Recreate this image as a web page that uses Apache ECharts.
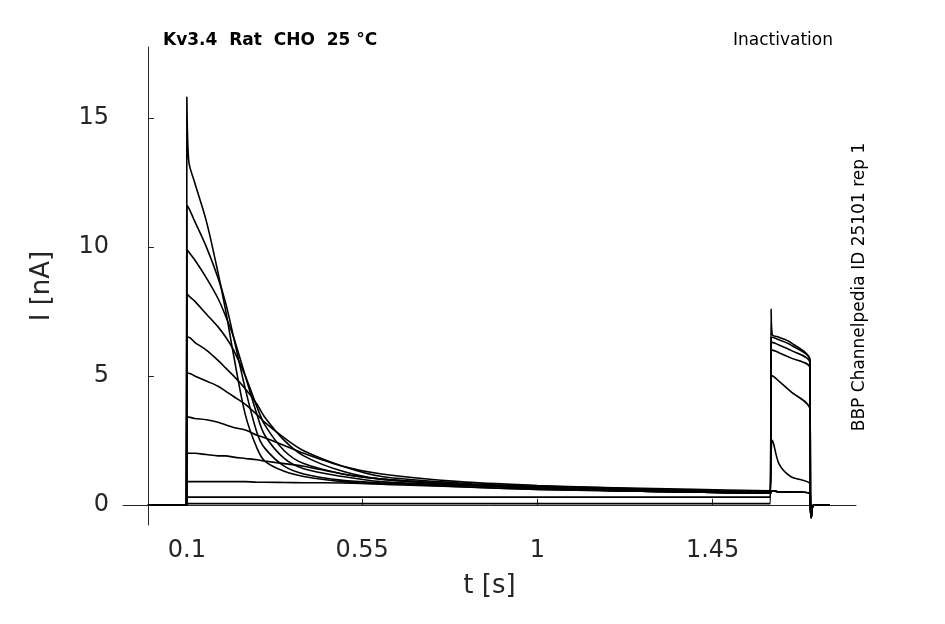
<!DOCTYPE html>
<html><head><meta charset="utf-8">
<script src="https://cdn.jsdelivr.net/npm/echarts@6/dist/echarts.min.js"></script>
<style>html,body{margin:0;padding:0;background:#fff}#c{width:945px;height:624px}</style>
</head><body><div id="c"></div>
<script>
const times = [0, 0.099, 0.1, 0.105, 0.12, 0.15, 0.18, 0.2, 0.22, 0.25, 0.28, 0.3, 0.35, 0.4, 0.5, 0.6, 0.8, 1.0, 1.2, 1.4, 1.598, 1.6, 1.603, 1.62, 1.65, 1.7, 1.701, 1.703, 1.71, 1.75];
// prepulse part (from t=0.1 to 1.4), test part values at 1.598..1.75
const traceA = [0,0,15.8,13.3,12.5,11.0,9.0,7.5,5.8,3.5,2.2,1.7,1.3,1.1,0.9,0.8,0.7,0.6,0.55,0.5,0.45,0.5,0.55,0.5,0.5,0.45,0,-0.3,0,0];
const traceB = [0,0,11.6,11.5,11.0,10.0,8.8,7.8,6.5,4.5,2.8,2.2,1.5,1.2,0.95,0.85,0.7,0.6,0.55,0.5,0.45,0.5,0.55,0.5,0.5,0.45,0,-0.3,0,0];
const traceC = [0,0,9.9,9.8,9.5,8.8,8.0,7.3,6.5,5.0,3.5,2.7,1.8,1.4,1.1,0.9,0.75,0.65,0.55,0.5,0.45,0.5,0.55,0.5,0.5,0.45,0,-0.3,0,0];
const traceD = [0,0,8.2,8.1,7.9,7.4,6.9,6.5,6.0,5.0,3.8,3.1,2.1,1.6,1.2,1.0,0.8,0.65,0.55,0.5,0.45,0.5,0.55,0.5,0.5,0.45,0,-0.3,0,0];
const traceE = [0,0,6.5,6.5,6.3,6.0,5.6,5.3,5.0,4.5,3.9,3.4,2.5,1.9,1.3,1.0,0.8,0.65,0.55,0.5,0.45,0.5,0.55,0.5,0.5,0.45,0,-0.3,0,0];
const traceF = [0,0,5.1,5.1,5.0,4.8,4.6,4.4,4.2,3.9,3.5,3.2,2.6,2.1,1.5,1.1,0.85,0.7,0.6,0.55,0.5,2.0,2.5,1.6,1.1,0.8,0,-0.4,0,0];
const traceG = [0,0,3.4,3.4,3.35,3.3,3.2,3.1,3.0,2.9,2.7,2.6,2.3,2.0,1.5,1.2,0.9,0.75,0.65,0.55,0.5,4.8,5.0,4.8,4.4,3.7,0,-0.5,0,0];
const traceH = [0,0,2.0,2.0,2.0,1.95,1.9,1.9,1.85,1.8,1.75,1.7,1.6,1.5,1.2,1.0,0.8,0.7,0.6,0.55,0.5,5.9,6.0,5.9,5.7,5.3,0,-0.5,0,0];
const traceI = [0,0,0.9,0.9,0.9,0.9,0.9,0.9,0.9,0.9,0.88,0.88,0.87,0.86,0.85,0.82,0.78,0.72,0.66,0.6,0.55,6.2,6.3,6.2,6.0,5.5,0,-0.5,0,0];
const traceJ = [0,0,0.3,0.3,0.3,0.3,0.3,0.3,0.3,0.3,0.3,0.3,0.3,0.3,0.3,0.3,0.3,0.3,0.3,0.3,0.3,6.4,6.5,6.4,6.2,5.6,0,-0.5,0,0];
const traceK = [0,0,0.05,0.05,0.05,0.05,0.05,0.05,0.05,0.05,0.05,0.05,0.05,0.05,0.05,0.05,0.05,0.05,0.05,0.05,0.05,7.6,6.6,6.5,6.3,5.6,0,-0.5,0,0];
const traces = [traceA,traceB,traceC,traceD,traceE,traceF,traceG,traceH,traceI,traceJ,traceK];
const xTicks = [0.1, 0.55, 1, 1.45];
const yTicks = [0, 5, 10, 15];

const chart = echarts.init(document.getElementById('c'));
chart.setOption({
  animation:false,
  grid:{left:123,right:89,top:47,bottom:99},
  title:[
    {text:'Kv3.4  Rat  CHO  25 °C',left:158,top:27,textStyle:{fontSize:17,fontWeight:'bold',color:'#000',fontFamily:'DejaVu Sans'}},
    {text:'Inactivation',right:107,top:27,textStyle:{fontSize:17,fontWeight:'normal',color:'#000',fontFamily:'DejaVu Sans'}}
  ],
  graphic:[{type:'text',x:860,y:287,rotation:Math.PI/2,style:{text:'BBP Channelpedia ID 25101 rep 1',fontSize:17,fill:'#000',fontFamily:'DejaVu Sans',align:'center',verticalAlign:'middle'}}],
  xAxis:{type:'value',min:-0.064,max:1.818,name:'t [s]',nameLocation:'middle',nameGap:48,
    nameTextStyle:{fontSize:26,color:'#262626',fontFamily:'DejaVu Sans'},
    axisLine:{lineStyle:{color:'#262626'}},splitLine:{show:false},
    axisTick:{inside:true,customValues:xTicks,length:6,lineStyle:{color:'#262626'}},
    axisLabel:{customValues:xTicks,fontSize:24,color:'#262626',margin:14,fontFamily:'DejaVu Sans'}},
  yAxis:{type:'value',min:-0.78,max:17.75,name:'I [nA]',nameLocation:'middle',nameGap:68,
    nameTextStyle:{fontSize:26,color:'#262626',fontFamily:'DejaVu Sans'},
    axisLine:{show:true,lineStyle:{color:'#262626'}},splitLine:{show:false},
    axisTick:{inside:true,customValues:yTicks,length:6,lineStyle:{color:'#262626'}},
    axisLabel:{customValues:yTicks,fontSize:24,color:'#262626',margin:14,fontFamily:'DejaVu Sans'}},
  series:traces.map(v=>({type:'line',showSymbol:false,smooth:0.3,
    lineStyle:{color:'#000',width:1.6},data:times.map((t,i)=>[t,v[i]])}))
});
</script></body></html>
